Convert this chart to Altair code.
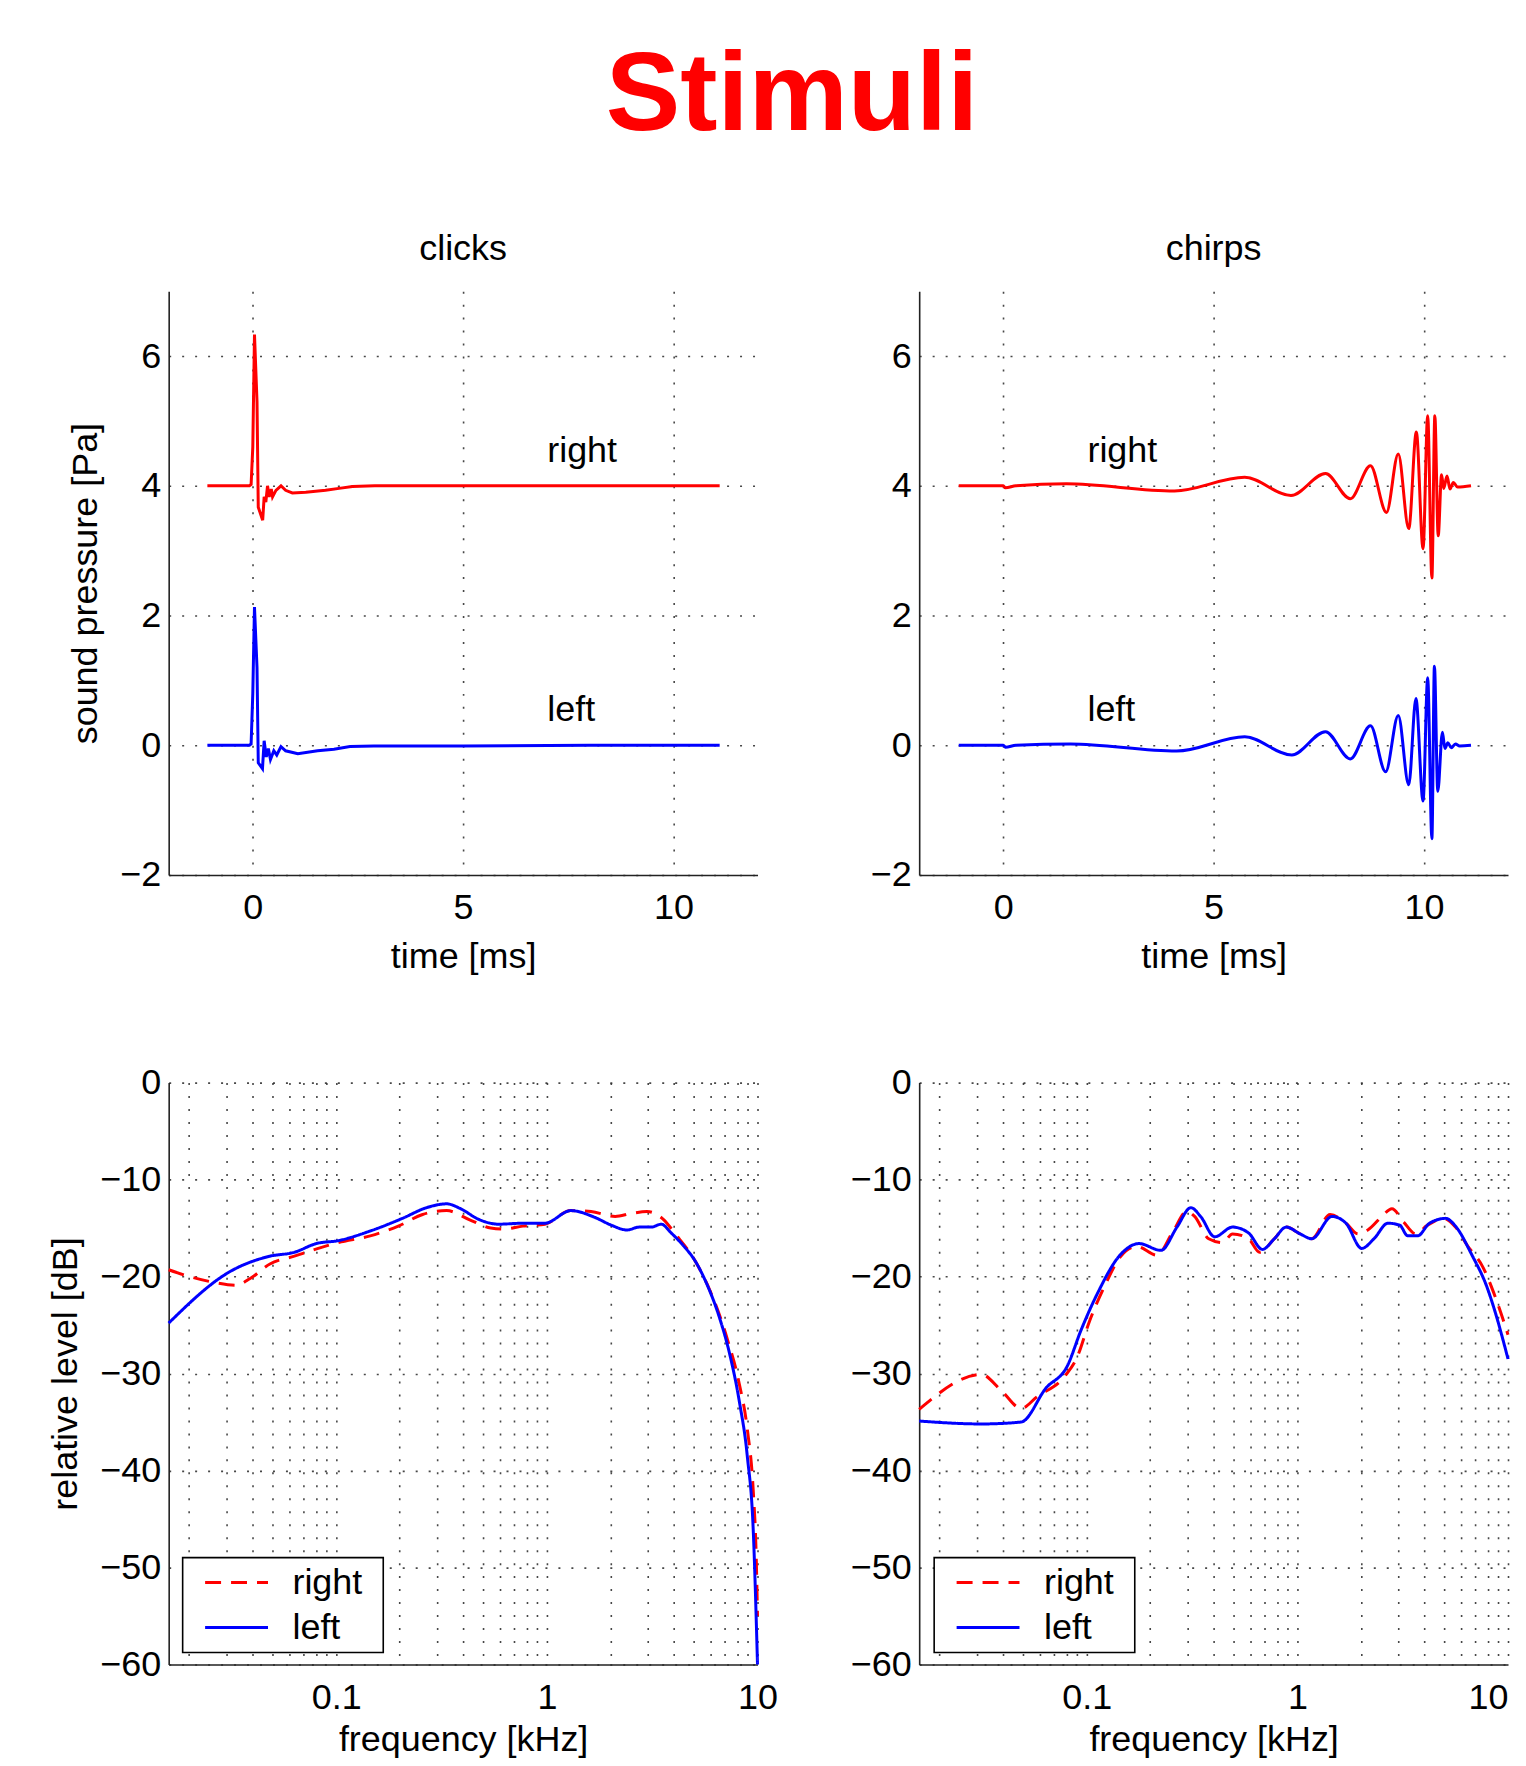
import altair as alt
import pandas as pd

FONT = "Liberation Sans"
RED = "#ff0000"
BLUE = "#0000ff"

# ---------------- time signals (clicks) ----------------
click_t_right = [-1.08, -0.08, -0.04, 0.0, 0.04, 0.10, 0.13, 0.235, 0.27, 0.31, 0.35, 0.39, 0.44,
                 0.47, 0.55, 0.67, 0.78, 0.94, 1.26, 1.73, 2.05, 2.37, 2.9, 5.0, 8.0, 11.1]
click_p_right = [4.0, 4.0, 4.02, 4.6, 6.33, 5.3, 3.67, 3.47, 3.83, 3.75, 4.0, 3.83, 3.95,
                 3.83, 3.93, 4.0, 3.93, 3.89, 3.9, 3.93, 3.96, 3.99, 4.0, 4.0, 4.0, 4.0]
click_t_left = [-1.08, -0.08, -0.04, 0.0, 0.04, 0.10, 0.13, 0.23, 0.27, 0.32, 0.37, 0.42, 0.50,
                0.57, 0.67, 0.78, 1.07, 1.54, 1.93, 2.31, 2.88, 5.0, 8.0, 11.1]
click_p_left = [0.0, 0.0, 0.02, 0.8, 2.13, 1.2, -0.27, -0.36, 0.07, -0.18, -0.05, -0.22, -0.085,
                -0.15, -0.02, -0.085, -0.13, -0.085, -0.06, -0.02, -0.01, -0.01, 0.0, 0.0]

# ---------------- time signals (chirps) ----------------
chirp_t_right = [-1.06, 0.0, 0.05, 0.3, 1.5, 4.07, 5.74, 6.84, 7.66, 8.25, 8.73, 9.11, 9.39, 9.64,
                 9.82, 9.98, 10.09, 10.19, 10.26, 10.34, 10.42, 10.47, 10.55, 10.62, 10.7, 10.8, 11.12]
chirp_p_right = [4.0, 4.0, 3.97, 4.0, 4.03, 3.92, 4.13, 3.85, 4.19, 3.80, 4.31, 3.59, 4.49, 3.34,
                 4.83, 3.03, 5.08, 2.58, 5.08, 3.23, 4.17, 3.96, 4.15, 3.95, 4.05, 3.98, 4.0]
chirp_t_left = [-1.06, 0.0, 0.05, 0.3, 1.6, 4.12, 5.74, 6.86, 7.66, 8.25, 8.73, 9.09, 9.39, 9.64,
                9.81, 9.98, 10.09, 10.19, 10.25, 10.33, 10.44, 10.5, 10.57, 10.65, 10.75, 10.85, 11.12]
chirp_p_left = [0.0, 0.0, -0.03, 0.0, 0.02, -0.09, 0.13, -0.15, 0.21, -0.21, 0.30, -0.41, 0.46, -0.61,
                0.72, -0.86, 1.04, -1.44, 1.22, -0.71, 0.20, -0.05, 0.04, -0.04, 0.02, -0.01, 0.0]

# ---------------- spectra (clicks) ----------------
cs_f_right = [0.016, 0.0194, 0.0263, 0.0334, 0.039, 0.0484, 0.0632, 0.082, 0.102, 0.145, 0.197, 0.257,
              0.334, 0.435, 0.541, 0.617, 0.769, 0.978, 1.30, 1.62, 2.11, 2.51, 2.99, 3.57, 4.07, 5.06,
              6.04, 7.20, 8.2, 8.94, 9.55, 9.85, 10.0]
cs_db_right = [-19.3, -19.9, -20.6, -20.9, -20.2, -18.7, -17.9, -17.1, -16.5, -15.8, -14.8, -13.6,
               -13.2, -14.2, -15.0, -15.1, -14.8, -14.6, -13.2, -13.3, -13.8, -13.5, -13.3, -14.1, -15.6, -18.4,
               -21.8, -26.5, -31.1, -35.7, -42.2, -48.6, -55.0]
cs_f_left = [0.016, 0.0318, 0.0484, 0.0632, 0.0803, 0.102, 0.145, 0.206, 0.268, 0.334, 0.389, 0.474,
             0.59, 0.769, 0.978, 1.30, 1.69, 2.02, 2.40, 2.74, 3.13, 3.49, 3.89, 4.44, 5.06, 5.78, 6.59,
             7.36, 8.2, 8.94, 9.55, 10.0]
cs_db_left = [-24.8, -19.4, -17.9, -17.5, -16.6, -16.3, -15.3, -14.0, -12.9, -12.5, -13.0, -14.1,
              -14.6, -14.5, -14.5, -13.2, -13.9, -14.7, -15.2, -14.9, -14.9, -14.6, -15.5, -16.8, -18.4, -20.9, -24.2,
              -27.9, -32.9, -38.5, -46.3, -60.0]

# ---------------- spectra (chirps) ----------------
hs_f_right = [0.016, 0.0316, 0.0394, 0.0488, 0.058, 0.0791, 0.090, 0.103, 0.122, 0.145, 0.173, 0.215,
              0.256, 0.298, 0.325, 0.379, 0.441, 0.492, 0.586, 0.661, 0.777, 0.885, 1.03, 1.17, 1.43, 1.70,
              1.94, 2.16, 2.52, 2.81, 3.20, 3.64, 4.15, 4.94, 5.63, 6.41, 7.63, 8.7, 10.0]
hs_db_right = [-33.7, -30.1, -31.8, -33.6, -32.4, -30.2, -28.3, -24.6, -20.9, -17.9, -16.9, -17.8,
               -15.4, -13.3, -13.8, -16.1, -16.5, -15.6, -16.1, -17.5, -16.1, -14.9, -15.6, -16.1, -13.6, -14.5,
               -15.6, -15.2, -13.8, -13.0, -14.4, -15.6, -14.7, -14.0, -14.9, -16.8, -19.1, -22.1, -26.0]
hs_f_left = [0.016, 0.0316, 0.0488, 0.064, 0.0809, 0.094, 0.112, 0.145, 0.177, 0.225, 0.268, 0.312,
             0.347, 0.405, 0.492, 0.586, 0.682, 0.777, 0.885, 1.03, 1.17, 1.46, 1.70, 2.02, 2.31, 2.69,
             3.06, 3.34, 3.72, 4.24, 5.05, 5.63, 6.71, 7.98, 8.7, 10.0]
hs_db_left = [-34.9, -35.2, -35.0, -31.5, -29.2, -25.5, -21.8, -17.7, -16.6, -17.3, -14.9, -12.9,
              -13.8, -15.9, -14.9, -15.5, -17.2, -16.1, -14.9, -15.6, -16.1, -13.8, -14.5, -17.1, -16.1, -14.5,
              -14.7, -15.8, -15.8, -14.5, -14.0, -14.8, -17.7, -21.2, -23.7, -28.5]

channels = ["right", "left"]
time_ticks = [0, 5, 10]
pressure_ticks = [-2, 0, 2, 4, 6]
level_ticks = [-60, -50, -40, -30, -20, -10, 0]
freq_grid = [0.02, 0.03, 0.04, 0.05, 0.06, 0.07, 0.08, 0.09,
             0.1, 0.2, 0.3, 0.4, 0.5, 0.6, 0.7, 0.8, 0.9,
             1, 2, 3, 4, 5, 6, 7, 8, 9, 10]

label_text = ["right", "left"]
click_label_x = [7.0, 7.0]
chirp_label_x = [2.0, 2.0]
label_y = [4.37, 0.37]

W = 590
H_TOP = 585
H_BOT = 583
LW = 3


def series_df(t_r, v_r, t_l, v_l, xname, yname):
    a = pd.DataFrame({xname: t_r, yname: v_r, "ch": "right"})
    b = pd.DataFrame({xname: t_l, yname: v_l, "ch": "left"})
    return pd.concat([a, b], ignore_index=True)


color_scale = alt.Scale(domain=channels, range=[RED, BLUE])
dash_scale = alt.Scale(domain=channels, range=[[16, 10], [1, 0]])


def time_panel(t_r, v_r, t_l, v_l, title, lab_x, ytitle, interp):
    df = series_df(t_r, v_r, t_l, v_l, "t", "p")
    yaxis_kw = dict(values=pressure_ticks, format="d")
    yaxis_kw["title"] = "sound pressure [Pa]" if ytitle else None
    x = alt.X("t:Q", scale=alt.Scale(domain=[-2, 12], nice=False, zero=False),
              axis=alt.Axis(values=time_ticks, title="time [ms]", titlePadding=14))
    y = alt.Y("p:Q", scale=alt.Scale(domain=[-2, 7], nice=False, zero=False),
              axis=alt.Axis(**yaxis_kw))
    line = alt.Chart(df).mark_line(strokeWidth=LW, interpolate=interp).encode(
        x=x, y=y,
        color=alt.Color("ch:N", scale=color_scale, legend=None),
    )
    labs = pd.DataFrame({"t": lab_x, "p": label_y, "txt": label_text})
    text = alt.Chart(labs).mark_text(align="left", baseline="alphabetic", fontSize=36,
                                     font=FONT, color="black").encode(
        x=alt.X("t:Q"), y=alt.Y("p:Q"), text="txt:N")
    return alt.layer(line, text).properties(
        width=W, height=H_TOP,
        title=alt.TitleParams(title, fontSize=36, font=FONT, fontWeight="normal",
                              color="black", anchor="middle", baseline="alphabetic", offset=-5))


def spec_panel(f_r, d_r, f_l, d_l, ytitle, flush, legx):
    df = series_df(f_r, d_r, f_l, d_l, "f", "db")
    yaxis_kw = dict(values=level_ticks)
    yaxis_kw["title"] = "relative level [dB]" if ytitle else None
    x = alt.X("f:Q", scale=alt.Scale(type="log", domain=[0.016, 10], nice=False),
              axis=alt.Axis(values=freq_grid, title="frequency [kHz]", labelFlush=flush, titlePadding=7,
                            labelExpr="datum.value == 0.1 ? '0.1' : (datum.value == 1 ? '1' : (datum.value == 10 ? '10' : ''))"))
    y = alt.Y("db:Q", scale=alt.Scale(domain=[-60, 0], nice=False, zero=False),
              axis=alt.Axis(**yaxis_kw))
    leg = alt.Legend(title="\u00a0", titleOrient="right", titleFontSize=36, titlePadding=17,
                     orient="none", legendX=legx, legendY=476,
                     symbolType="stroke", symbolSize=3969, symbolStrokeWidth=LW,
                     labelFontSize=36, labelFont=FONT, labelColor="black",
                     strokeColor="black", fillColor="white", padding=4, clipHeight=42,
                     rowPadding=3, labelOffset=23, symbolOffset=17)
    enc = dict(x=x, y=y,
               color=alt.Color("ch:N", scale=color_scale, legend=leg),
               strokeDash=alt.StrokeDash("ch:N", scale=dash_scale, legend=leg))
    base = alt.Chart(df).mark_line(strokeWidth=LW, interpolate="monotone")
    red = base.transform_filter("datum.ch == 'right'").encode(**enc)
    blue = base.transform_filter("datum.ch == 'left'").encode(**enc)
    return alt.layer(red, blue).properties(width=W, height=H_BOT)


tl = time_panel(click_t_right, click_p_right, click_t_left, click_p_left, "clicks", click_label_x, True, "linear")
tr = time_panel(chirp_t_right, chirp_p_right, chirp_t_left, chirp_p_left, "chirps", chirp_label_x, False, "monotone")
bl = spec_panel(cs_f_right, cs_db_right, cs_f_left, cs_db_left, True, False, 14)
br = spec_panel(hs_f_right, hs_db_right, hs_f_left, hs_db_left, False, True, 15)

chart = alt.concat(tl, tr, bl, br, columns=2, spacing={"row": 90, "column": 71}).resolve_scale(
    color="independent", strokeDash="independent", x="independent", y="independent"
).resolve_legend(color="independent", strokeDash="independent").properties(
    title=alt.TitleParams("Stimuli", fontSize=112, font=FONT, fontWeight="bold", color=RED,
                          anchor="middle", baseline="alphabetic", offset=-11, dx=11),
    padding={"left": 39, "top": 31, "right": 4, "bottom": 0},
).configure_view(stroke=None).configure_axis(
    labelFont=FONT, titleFont=FONT, labelFontSize=36, titleFontSize=36,
    labelColor="black", titleColor="black", titleFontWeight="normal",
    domainColor="#222222", domainWidth=1.6, ticks=False,
    grid=True, gridColor="#333333", gridDash=[2, 11], gridWidth=1.6, gridOpacity=0.9,
).configure_axisX(labelPadding=16).configure_axisY(
    labelPadding=8, titlePadding=15
).configure_legend(strokeWidth=1.6)

chart.save("out.html", embed_options={"renderer": "svg", "actions": False})
